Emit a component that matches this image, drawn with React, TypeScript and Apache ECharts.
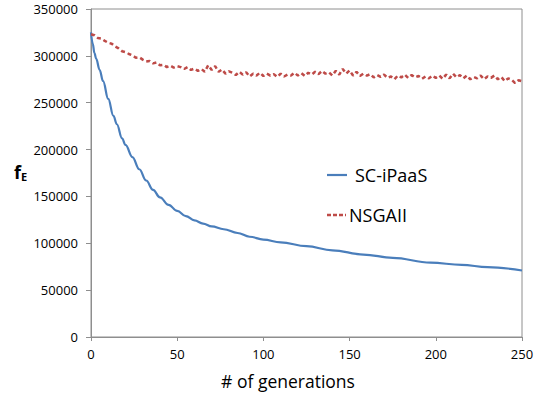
import React, { useEffect, useRef } from "react";
import * as echarts from "echarts";

const xTicks = [0, 50, 100, 150, 200, 250];
const yTicks = [0, 50000, 100000, 150000, 200000, 250000, 300000, 350000];

const sciGens = [0, 1, 2, 3, 5, 7, 10, 13, 15, 18, 20, 24, 28, 32, 36, 40, 45, 50, 55, 60, 65, 70, 77, 85, 92, 100, 110, 125, 140, 158, 175, 197, 215, 230, 250];
const sciValues = [325000, 313000, 303000, 297000, 285000, 273000, 254000, 236000, 227000, 212000, 205000, 192000, 179000, 167000, 157000, 149000, 141000, 134500, 129000, 124500, 121000, 118000, 115000, 111000, 107000, 104000, 101000, 97000, 92500, 88000, 84500, 79300, 77000, 74500, 71000];

// NSGAII, one value every 2 generations (0..250), in thousands
const nsgaValuesK = [
  323, 322, 319, 318.5, 316, 314, 313, 310, 308, 305,
  304, 302, 300.5, 298, 298.5, 296, 294, 294.5, 292, 293,
  290, 290.5, 288, 289.5, 287.5, 289, 288, 286, 288, 285,
  286.5, 284, 286, 283, 290, 285, 289, 283, 285.5, 281,
  283.5, 282, 279.5, 283, 280, 282.5, 278, 281, 279, 282,
  278.5, 281, 279, 280.5, 277.5, 281, 278, 280, 279, 282,
  279, 281.5, 278.5, 282, 280, 283, 280.5, 284, 281, 282.5,
  279, 284, 280, 286, 281, 284.5, 279, 283, 278.5, 281,
  279, 280.5, 277, 279.5, 277.5, 280, 276.5, 278, 275, 279,
  277, 280, 276.5, 279.5, 277, 278.5, 275.5, 278, 276, 279,
  276.5, 279, 275.5, 280, 276, 281, 277, 279.5, 276, 279,
  275, 277.5, 276, 279, 275, 278, 276.5, 279, 275, 277.5,
  273, 276, 274.5, 271, 274, 273
];
const nsgaGens = nsgaValuesK.map((_, i) => i * 2);

const seriesNames = ["SC-iPaaS", "NSGAII"];
const xAxisTitle = "# of generations";
const blue = "#4a7ebb";
const red = "#be4b48";

export default function App() {
  const ref = useRef<HTMLDivElement>(null);
  useEffect(() => {
    document.body.style.margin = "0";
    if (!ref.current) return;
    const chart = echarts.init(ref.current, null, { renderer: "svg" });
    const font = "Open Sans";
    chart.setOption({
      animation: false,
      backgroundColor: "#ffffff",
      grid: {
        left: 91,
        right: 28,
        top: 9,
        bottom: 61,
        show: true,
        borderColor: "#8e8e8e",
        borderWidth: 1,
        containLabel: false,
      },
      xAxis: {
        type: "value",
        min: xTicks[0],
        max: xTicks[xTicks.length - 1],
        interval: 50,
        axisLine: { show: true, lineStyle: { color: "#8e8e8e", width: 1 } },
        axisTick: { show: true, length: 4, lineStyle: { color: "#8e8e8e" } },
        axisLabel: { fontFamily: font, fontSize: 13, color: "#000", margin: 10, formatter: (v: number) => String(v) },
        splitLine: { show: false },
      },
      yAxis: {
        type: "value",
        min: yTicks[0],
        max: yTicks[yTicks.length - 1],
        interval: 50000,
        axisLine: { show: true, lineStyle: { color: "#8e8e8e", width: 1 } },
        axisTick: { show: true, length: 5, lineStyle: { color: "#8e8e8e" } },
        axisLabel: { fontFamily: font, fontSize: 13, color: "#000", margin: 13, formatter: (v: number) => String(v) },
        splitLine: { show: false },
      },
      legend: { show: false },
      graphic: [
        {
          type: "text",
          x: 288,
          y: 381,
          style: { text: xAxisTitle, fontFamily: font, fontSize: 17.5, fill: "#000", align: "center", verticalAlign: "middle" },
        },
        {
          type: "text",
          left: 14,
          top: 163,
          style: {
            text: "{f|f}{e|E}",
            rich: {
              f: { fontFamily: font, fontSize: 18, fontWeight: "bold", fill: "#000" },
              e: { fontFamily: font, fontSize: 11, fontWeight: "bold", fill: "#000", padding: [8, 0, 0, 0] },
            },
          },
        },
        {
          type: "line",
          shape: { x1: 327, y1: 175, x2: 347, y2: 175 },
          style: { stroke: blue, lineWidth: 2.2 },
        },
        {
          type: "text",
          x: 355,
          y: 175,
          style: { text: seriesNames[0], fontFamily: font, fontSize: 18, fill: "#000", verticalAlign: "middle" },
        },
        {
          type: "line",
          shape: { x1: 327, y1: 215, x2: 346, y2: 215 },
          style: { stroke: red, lineWidth: 2.5, lineDash: [4, 2] },
        },
        {
          type: "text",
          x: 349,
          y: 215,
          style: { text: seriesNames[1], fontFamily: font, fontSize: 18, fill: "#000", verticalAlign: "middle" },
        },
      ],
      series: [
        {
          name: seriesNames[0],
          type: "line",
          data: sciGens.map((g, i) => [g, sciValues[i]]),
          showSymbol: false,
          symbol: "none",
          smooth: 0.4,
          smoothMonotone: "x",
          lineStyle: { color: blue, width: 2.2 },
          itemStyle: { color: blue },
        },
        {
          name: seriesNames[1],
          type: "line",
          data: nsgaGens.map((g, i) => [g, nsgaValuesK[i] * 1000]),
          showSymbol: false,
          symbol: "none",
          lineStyle: { color: red, width: 2.5, type: [4, 3] },
          itemStyle: { color: red },
        },
      ],
    });
    return () => chart.dispose();
  }, []);
  return <div ref={ref} style={{ width: 550, height: 398 }} />;
}
